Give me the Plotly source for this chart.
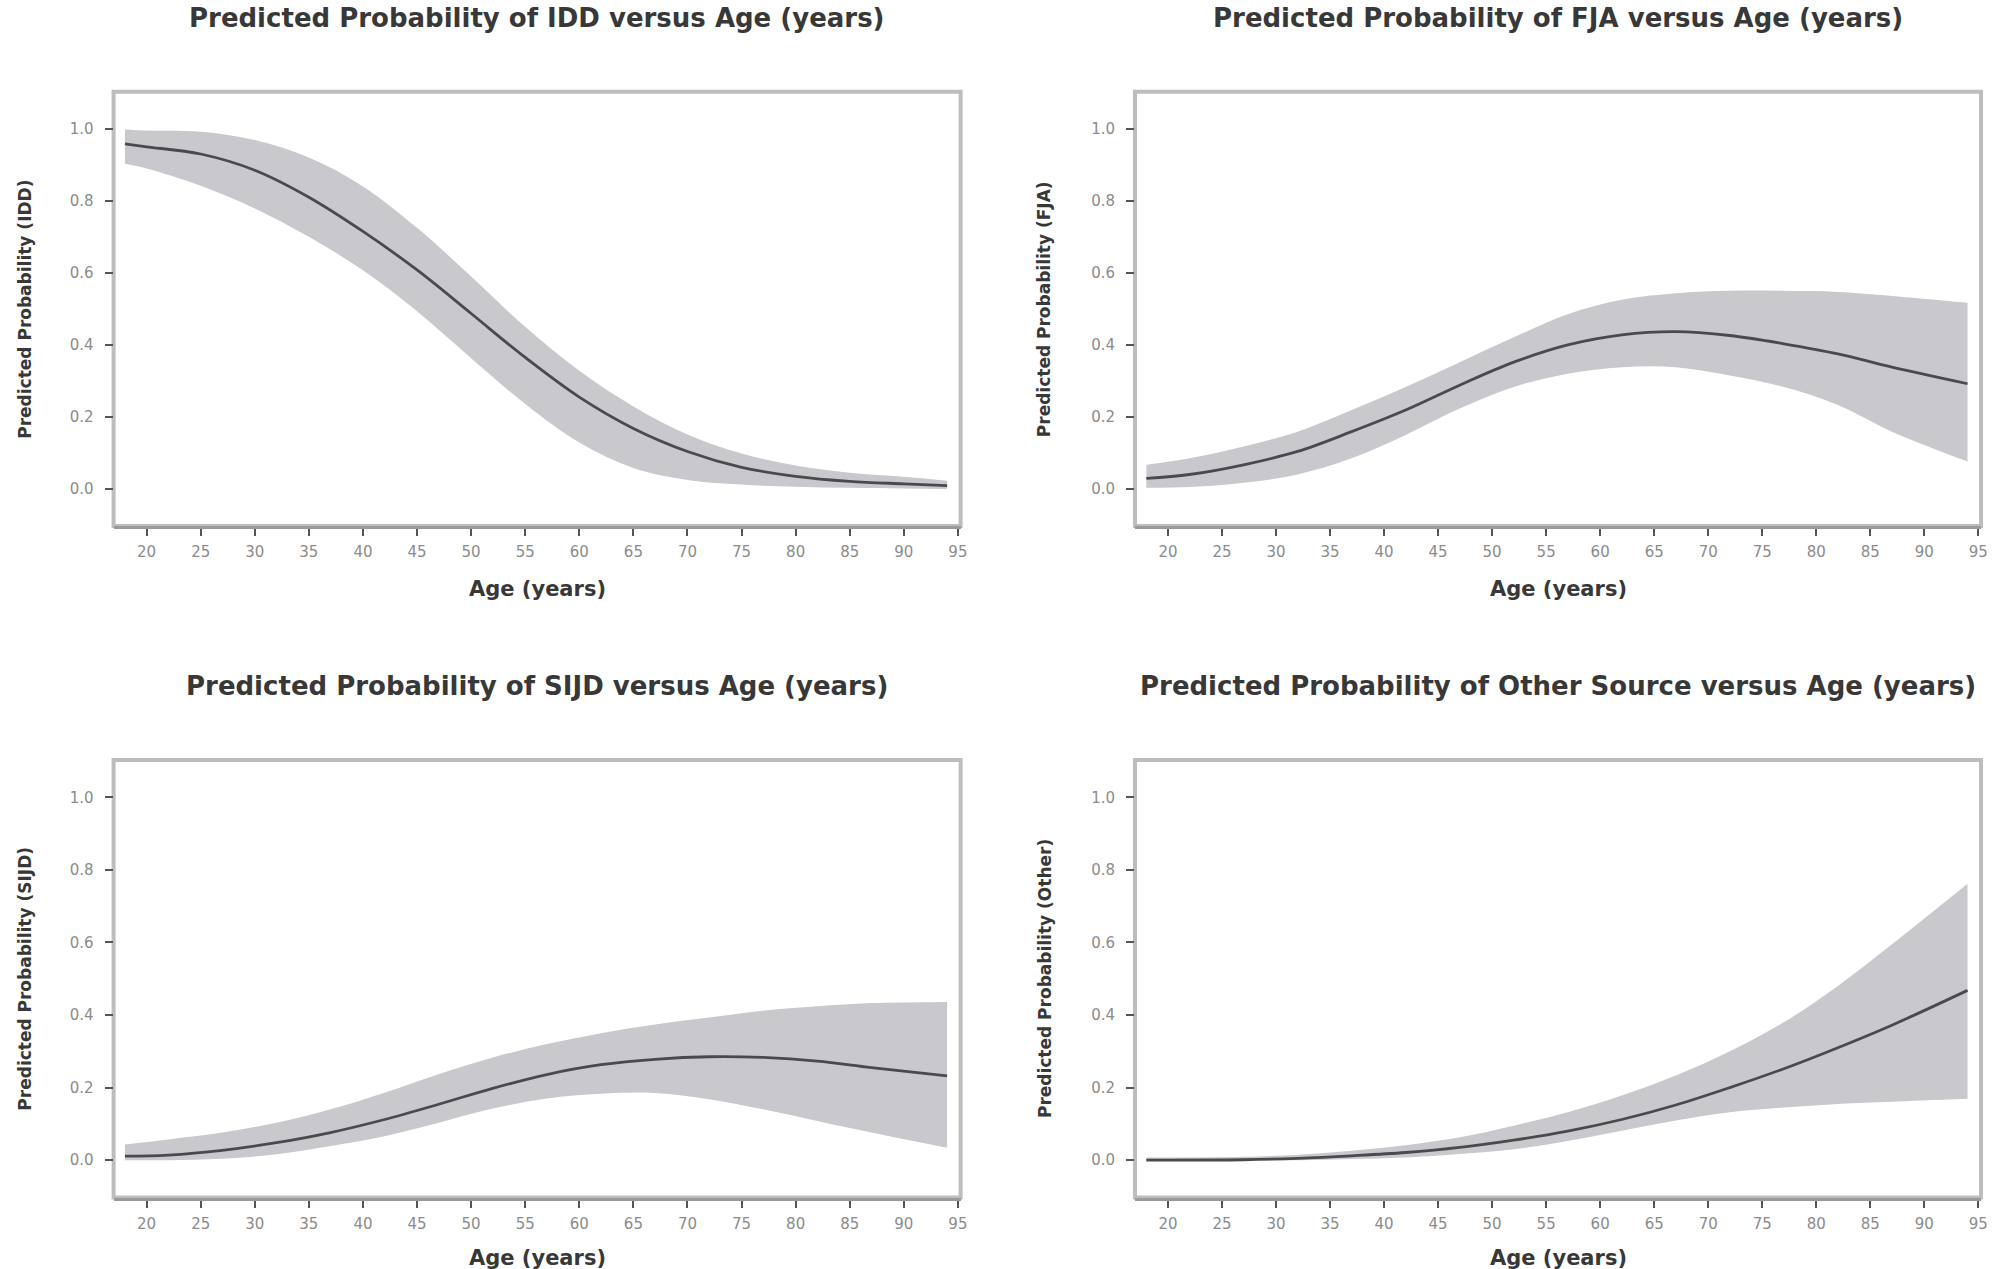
import plotly.graph_objects as go

# ---- predicted probabilities with 95% confidence limits, by age ----
idd_age = [18, 20, 25, 30, 35, 40, 45, 50, 55, 60, 65, 70, 75, 80, 85, 90, 94]
idd_fit = [0.958, 0.950, 0.930, 0.885, 0.810, 0.715, 0.608, 0.487, 0.365, 0.255, 0.168, 0.104, 0.060, 0.035, 0.021, 0.014, 0.009]
idd_upper = [0.998, 0.995, 0.992, 0.969, 0.920, 0.840, 0.725, 0.590, 0.450, 0.328, 0.229, 0.151, 0.098, 0.065, 0.045, 0.034, 0.023]
idd_lower = [0.903, 0.890, 0.842, 0.779, 0.700, 0.607, 0.493, 0.363, 0.236, 0.129, 0.058, 0.025, 0.012, 0.006, 0.003, 0.001, 0.000]

fja_age = [18, 22, 27, 32, 37, 42, 47, 52, 57, 62, 67, 72, 77, 82, 87, 94]
fja_fit = [0.029, 0.040, 0.067, 0.104, 0.159, 0.219, 0.288, 0.352, 0.400, 0.428, 0.437, 0.426, 0.403, 0.375, 0.338, 0.292]
fja_upper = [0.067, 0.085, 0.118, 0.159, 0.219, 0.283, 0.352, 0.421, 0.485, 0.525, 0.543, 0.550, 0.550, 0.547, 0.536, 0.517]
fja_lower = [0.003, 0.005, 0.017, 0.040, 0.085, 0.150, 0.223, 0.283, 0.320, 0.338, 0.338, 0.315, 0.283, 0.233, 0.159, 0.076]

sijd_age = [18, 22, 27, 32, 37, 42, 47, 52, 57, 62, 67, 72, 77, 82, 87, 94]
sijd_fit = [0.011, 0.014, 0.027, 0.048, 0.076, 0.112, 0.154, 0.198, 0.236, 0.263, 0.278, 0.285, 0.283, 0.273, 0.255, 0.232]
sijd_upper = [0.043, 0.057, 0.076, 0.103, 0.140, 0.186, 0.237, 0.283, 0.320, 0.350, 0.374, 0.393, 0.412, 0.424, 0.433, 0.436]
sijd_lower = [0.000, 0.000, 0.004, 0.016, 0.039, 0.066, 0.103, 0.142, 0.170, 0.183, 0.185, 0.168, 0.140, 0.108, 0.076, 0.034]

other_age = [18, 27, 32, 37, 42, 47, 52, 57, 62, 67, 72, 77, 82, 87, 94]
other_fit = [0.000, 0.001, 0.005, 0.012, 0.021, 0.035, 0.055, 0.080, 0.112, 0.152, 0.200, 0.252, 0.310, 0.372, 0.468]
other_upper = [0.007, 0.009, 0.015, 0.026, 0.041, 0.063, 0.095, 0.132, 0.178, 0.233, 0.300, 0.380, 0.480, 0.595, 0.762]
other_lower = [0.000, 0.000, 0.000, 0.003, 0.007, 0.017, 0.030, 0.053, 0.081, 0.109, 0.132, 0.145, 0.155, 0.161, 0.169]

titles = [
    "Predicted Probability of IDD versus Age (years)",
    "Predicted Probability of FJA versus Age (years)",
    "Predicted Probability of SIJD versus Age (years)",
    "Predicted Probability of Other Source versus Age (years)",
]
y_titles = [
    "Predicted Probability (IDD)",
    "Predicted Probability (FJA)",
    "Predicted Probability (SIJD)",
    "Predicted Probability (Other)",
]
x_title = "Age (years)"
x_ticks = [20, 25, 30, 35, 40, 45, 50, 55, 60, 65, 70, 75, 80, 85, 90, 95]
y_ticks = [0.0, 0.2, 0.4, 0.6, 0.8, 1.0]

panels = [
    (idd_age, idd_fit, idd_upper, idd_lower),
    (fja_age, fja_fit, fja_upper, fja_lower),
    (sijd_age, sijd_fit, sijd_upper, sijd_lower),
    (other_age, other_fit, other_upper, other_lower),
]

# ---- page geometry (pixels) ----
W, H = 1998, 1269
col_px = [(114, 964), (1139, 1988)]
row_px = [(91.7, 526), (760, 1197.5)]   # top, bottom of each plotting box

FONT = "DejaVu Sans"
BAND = "rgb(200,200,205)"
LINE = "rgb(74,74,78)"
FRAME = "#bdbdbd"
TICK_TXT = "#8c8c8c"
TITLE_TXT = "#383838"

fig = go.Figure()
annotations = []
shapes = []

for i, (age, fit, up, lo) in enumerate(panels):
    r, c = divmod(i, 2)
    n = i + 1
    xa = "x" if n == 1 else f"x{n}"
    ya = "y" if n == 1 else f"y{n}"

    fig.add_trace(go.Scatter(x=age, y=lo, mode="lines", line=dict(width=0, shape="spline", color=BAND),
                             xaxis=xa, yaxis=ya, hoverinfo="skip", showlegend=False))
    fig.add_trace(go.Scatter(x=age, y=up, mode="lines", line=dict(width=0, shape="spline", color=BAND),
                             fill="tonexty", fillcolor=BAND,
                             xaxis=xa, yaxis=ya, hoverinfo="skip", showlegend=False))
    fig.add_trace(go.Scatter(x=age, y=fit, mode="lines", line=dict(width=2.8, shape="spline", color=LINE),
                             xaxis=xa, yaxis=ya, showlegend=False))

    x0, x1 = col_px[c]
    top, bot = row_px[r]
    xdom = [x0 / W, x1 / W]
    ydom = [(H - bot) / H, (H - top) / H]

    xkey = "xaxis" if n == 1 else f"xaxis{n}"
    ykey = "yaxis" if n == 1 else f"yaxis{n}"
    fig.layout[xkey] = dict(
        domain=xdom, anchor=ya, range=[16.95, 95.25],
        tickmode="array", tickvals=x_ticks, ticktext=[str(v) for v in x_ticks],
        ticks="outside", ticklen=7, tickwidth=2, tickcolor="#555555",
        showline=True, linecolor="#9a9a9a", linewidth=3,
        showgrid=False, zeroline=False,
        tickfont=dict(family=FONT, size=15, color=TICK_TXT),
        ticklabelstandoff=3,
    )
    fig.layout[ykey] = dict(
        domain=ydom, anchor=xa, range=[-0.103, 1.103],
        tickmode="array", tickvals=y_ticks, ticktext=[f"{v:.1f}" for v in y_ticks],
        ticks="outside", ticklen=8, tickwidth=2, tickcolor="#555555",
        showline=False, showgrid=False, zeroline=False,
        tickfont=dict(family=FONT, size=15, color=TICK_TXT),
        ticklabelstandoff=8,
    )

    # light grey box around the plotting region
    shapes.append(dict(type="rect", xref=f"{xa} domain", yref=f"{ya} domain",
                       x0=0, x1=1, y0=0, y1=1, line=dict(color=FRAME, width=4), layer="below"))

    cx = (x0 + x1) / 2 / W
    title_y = 18 if r == 0 else 686
    xt_y = 589 if r == 0 else 1258
    yt_x = 25 if c == 0 else 1048
    annotations.append(dict(text=f"<b>{titles[i]}</b>", xref="paper", yref="paper",
                            x=cx, y=1 - title_y / H, xanchor="center", yanchor="middle",
                            showarrow=False, font=dict(family=FONT, size=26, color=TITLE_TXT)))
    annotations.append(dict(text=f"<b>{x_title}</b>", xref="paper", yref="paper",
                            x=cx, y=1 - xt_y / H, xanchor="center", yanchor="middle",
                            showarrow=False, font=dict(family=FONT, size=21, color=TITLE_TXT)))
    annotations.append(dict(text=f"<b>{y_titles[i]}</b>", xref="paper", yref="paper",
                            x=yt_x / W, y=1 - (top + bot) / 2 / H, xanchor="center", yanchor="middle",
                            textangle=-90, showarrow=False,
                            font=dict(family=FONT, size=17, color=TITLE_TXT)))

fig.update_layout(
    width=W, height=H, margin=dict(l=0, r=0, t=0, b=0),
    paper_bgcolor="white", plot_bgcolor="white",
    showlegend=False, annotations=annotations, shapes=shapes,
)

fig.write_html("out.html")
